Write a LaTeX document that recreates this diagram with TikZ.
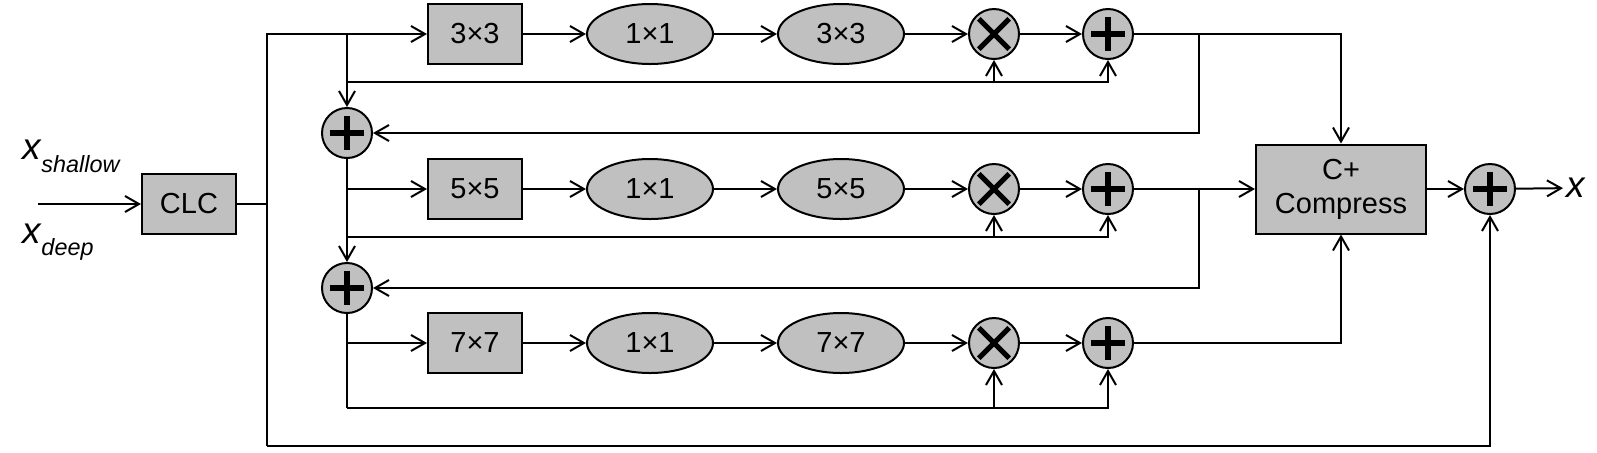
\documentclass[tikz,border=0pt]{standalone}
\usepackage{fontspec}
\setmainfont{Liberation Sans}
\usetikzlibrary{arrows.meta,shapes.geometric}
\definecolor{blockgray}{RGB}{192,192,192}

\begin{document}
\begin{tikzpicture}[
  x=0.5pt, y=-0.5pt,
  line width=1pt,
  >={Straight Barb[length=7pt,width=8pt]},
  every node/.style={font=\fontsize{14.5}{17}\selectfont},
  block/.style={rectangle, draw, fill=blockgray, minimum width=47pt, minimum height=30pt, inner sep=0pt},
  conv/.style={ellipse, draw, fill=blockgray, minimum width=63pt, minimum height=30pt, inner sep=0pt},
  sum/.style={circle, draw, fill=blockgray, minimum size=25pt, inner sep=0pt,
    path picture={\draw[line width=2.6pt] (path picture bounding box.center)
      +(-8.3pt,0) -- +(8.3pt,0) +(0,-8.3pt) -- +(0,8.3pt);}},
  prod/.style={circle, draw, fill=blockgray, minimum size=25pt, inner sep=0pt,
    path picture={\draw[line width=2.6pt] (path picture bounding box.center)
      +(-7.6pt,-7.6pt) -- +(7.6pt,7.6pt) +(-7.6pt,7.6pt) -- +(7.6pt,-7.6pt);}},
  lab/.style={font=\fontsize{18.5}{20}\selectfont\itshape, inner sep=0pt}
]
\useasboundingbox (0,0) rectangle (1597,452);

% input side
\node[lab, anchor=base west] (xs) at (22,159) {x\raisebox{-6.5pt}{\fontsize{11.7}{13}\selectfont shallow}};
\node[lab, anchor=base west] (xd) at (22,243) {x\raisebox{-6pt}{\fontsize{11.7}{13}\selectfont deep}};
\coordinate (in) at (38,204);
\node[block] (clc) at (189,204) {CLC};
\coordinate (bus) at (267,446);
\draw[->] (in) -- (clc);

% three branches
\foreach \r/\k/\y in {1/3/34, 2/5/189, 3/7/343} {
  \node[block] (k\r) at (475,\y) {\k×\k};
  \node[conv] (p\r) at (650,\y) {1×1};
  \node[conv] (q\r) at (841,\y) {\k×\k};
  \node[prod] (m\r) at (994,\y) {};
  \node[sum] (s\r) at (1108,\y) {};
  \draw[->] (k\r) -- (p\r);
  \draw[->] (p\r) -- (q\r);
  \draw[->] (q\r) -- (m\r);
  \draw[->] (m\r) -- (s\r);
}
\node[sum] (la) at (347,133) {};
\node[sum] (lb) at (347,288) {};
\node[block, minimum width=85pt, minimum height=44.5pt, align=center] (cc) at (1341,189) {C+\\Compress};
\node[sum] (fs) at (1490,189) {};
\node[lab, anchor=west, inner sep=1pt] (xo) at (1563,188) {x};
\coordinate (split) at (1199,189);

% left side
\draw (clc) -- (clc -| bus);
\draw[->] (bus) |- (k1);
\draw[->] (la |- k1) -- (la);
\draw[->] (la) -- (lb);
\draw[->] (la |- k2) -- (k2);
\draw[->] (lb |- k3) -- (k3);
\coordinate (f1) at (347,82);
\coordinate (f2) at (347,237);
\coordinate (f3) at (347,408);
\draw (lb) -- (f3);
\foreach \r in {1,2,3} {
  \draw[->] (f\r) -| (m\r);
  \draw[->] (f\r) -| (s\r);
}

% right side
\draw[->] (s1) -| (cc);
\draw[->] (s2) -- (cc);
\draw[->] (s3) -| (cc);
\draw[->] (s1 -| split) |- (la);
\draw[->] (split) |- (lb);
\draw[->] (cc) -- (fs);
\draw[->] (fs) -- (xo);
\draw[->] (bus) -| (fs);
\end{tikzpicture}
\end{document}
